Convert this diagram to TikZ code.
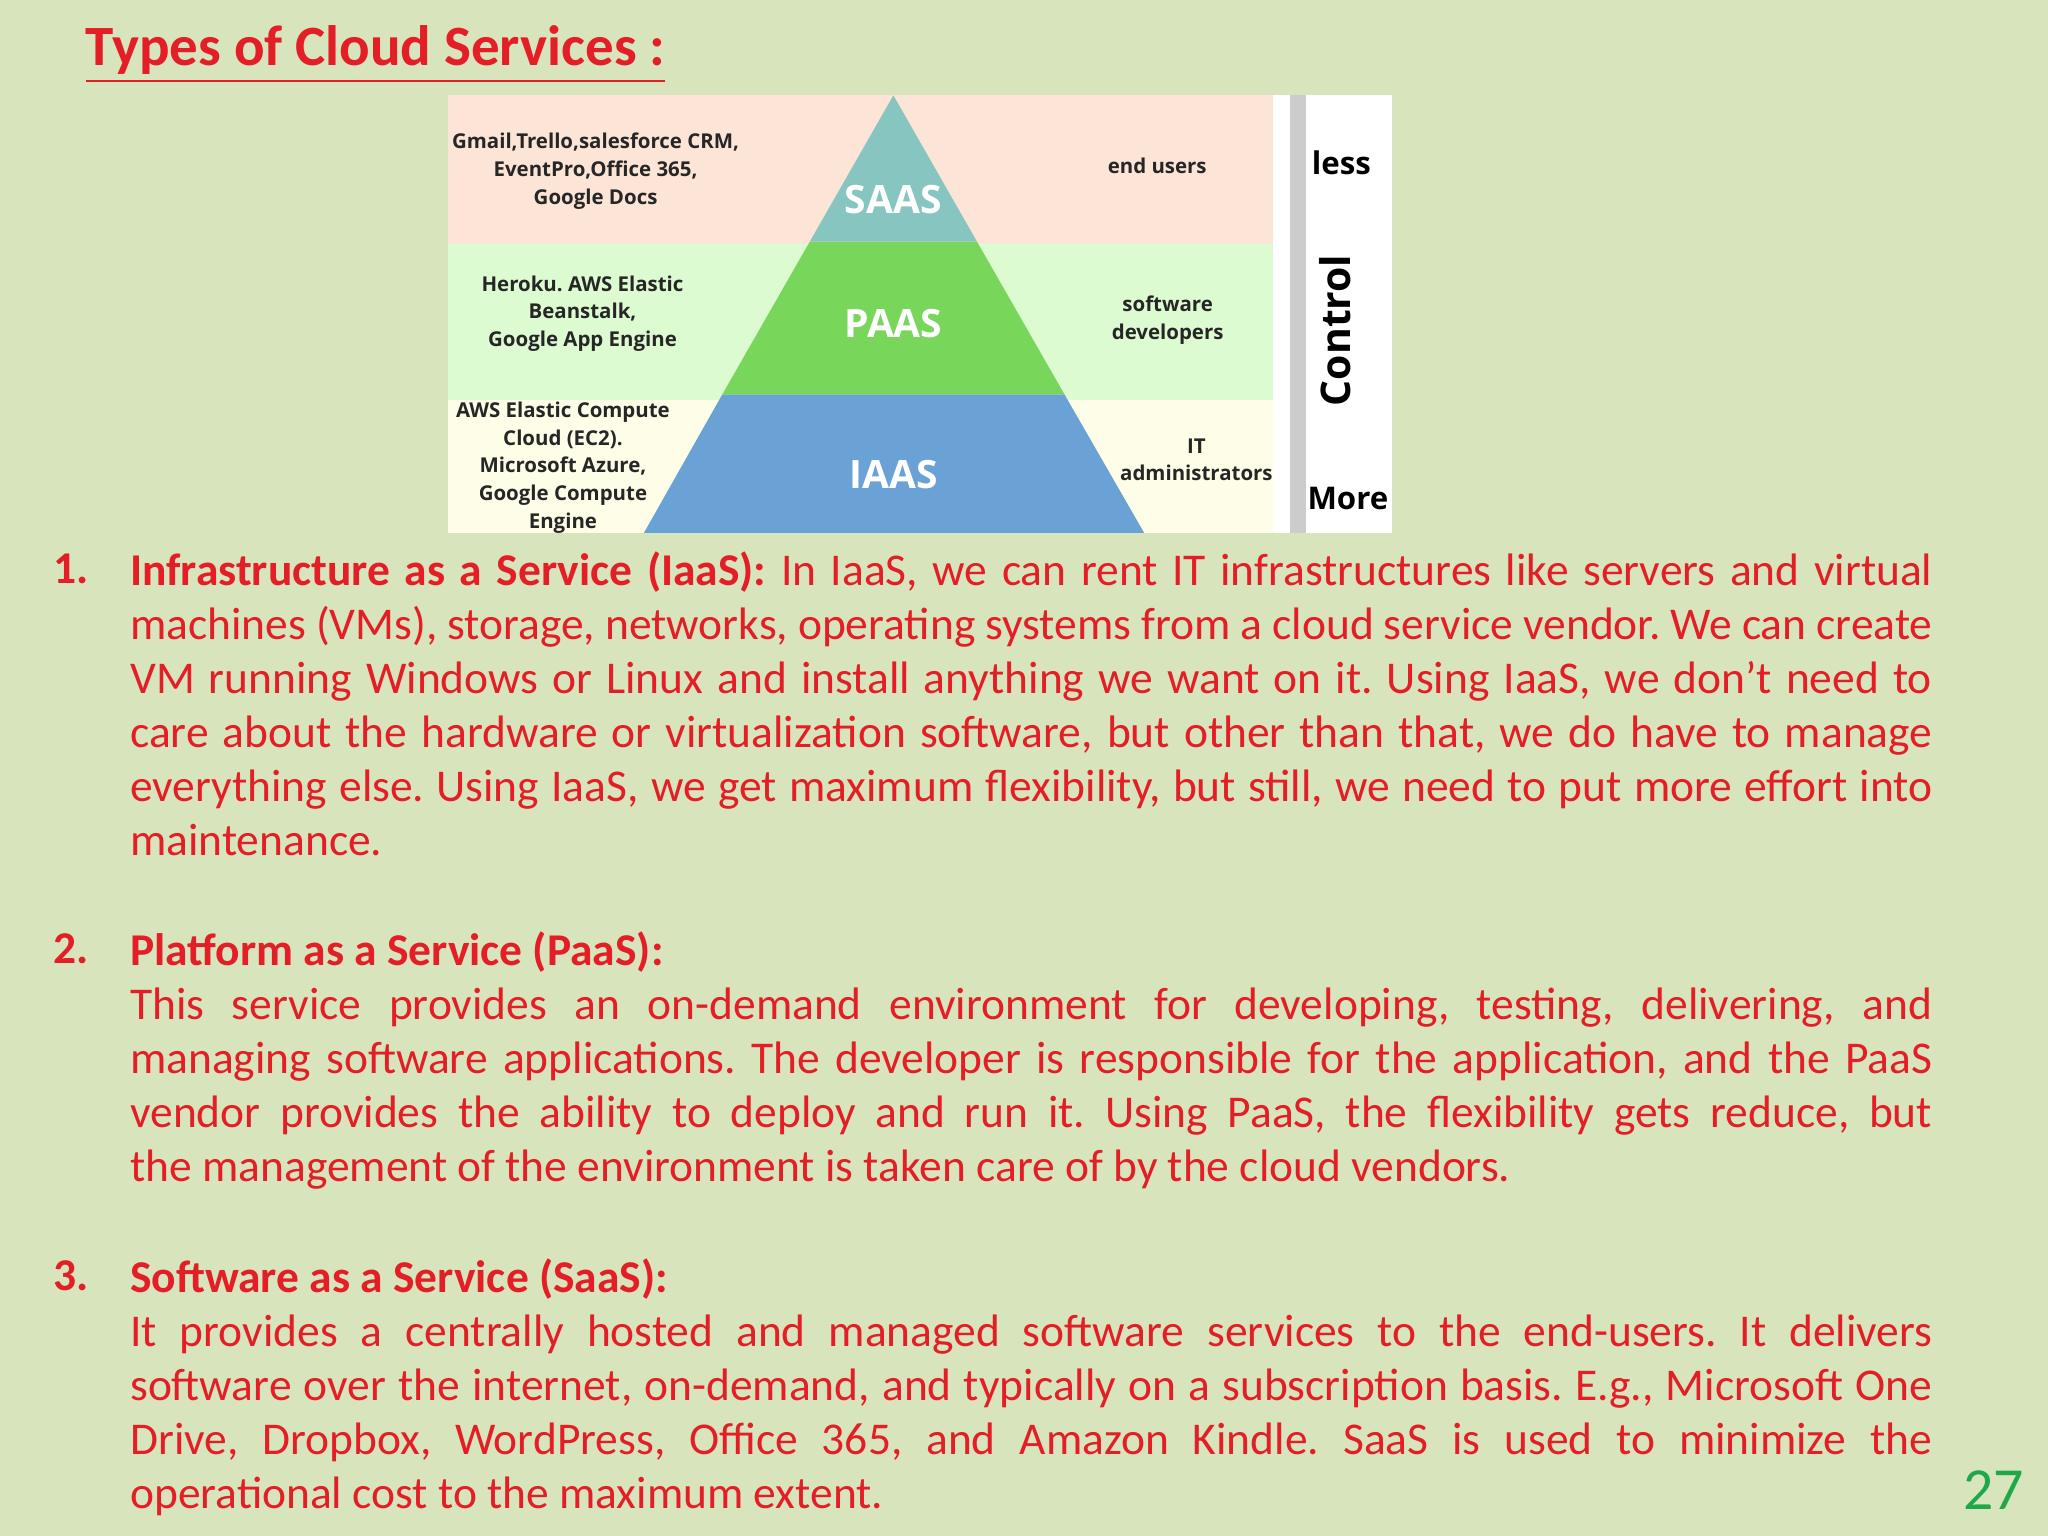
\documentclass[tikz,border=0pt]{standalone}
\usepackage{fontspec}
\setmainfont{Carlito}
\newfontfamily\picfont{Open Sans}
\frenchspacing
\definecolor{bg}{HTML}{D8E4BC}
\definecolor{txtred}{HTML}{E41E26}
\definecolor{pgreen}{HTML}{1FA84A}
\definecolor{bandA}{HTML}{FCE4D6}
\definecolor{bandB}{HTML}{DDFBD0}
\definecolor{bandC}{HTML}{FEFDE8}
\definecolor{saas}{HTML}{86C5C0}
\definecolor{paas}{HTML}{78D65B}
\definecolor{iaas}{HTML}{6AA2D5}
\tikzset{
  lbl/.style={font=\picfont\bfseries\fontsize{4.45}{6}\selectfont, align=center, text=black!85, inner sep=0},
  tier/.style={font=\picfont\bfseries\fontsize{8.5}{10}\selectfont, text=white, inner sep=0},
  para/.style={anchor=north west, inner sep=0, text width=13.79cm, align=justify, text=txtred, font=\fontsize{9.9}{11.76}\selectfont},
  num/.style={anchor=base west, inner sep=0, text=txtred, font=\bfseries\fontsize{9.9}{11.76}\selectfont}
}
\begin{document}
\begin{tikzpicture}[x=0.01cm,y=-0.01cm]
\fill[bg] (0,0) rectangle (1568,1176);
\useasboundingbox (0,0) rectangle (1568,1176);
\node[anchor=base west, inner sep=0, text=txtred, font=\bfseries\fontsize{12.4}{15}\selectfont] (title) at (65,50) {\underline{Types of Cloud Services :}};
% image
\fill[white] (343,73) rectangle (1066,408);
\fill[bandA] (343,73) rectangle (975,187);
\fill[bandB] (343,187) rectangle (975,306);
\fill[bandC] (343,306) rectangle (975,408);
\fill[black!20] (988,73) rectangle (1000,408);
\fill[iaas] (553,302) -- (815,302) -- (876,408) -- (493,408) -- cycle;
\fill[paas] (620,185) -- (748,185) -- (815,302) -- (553,302) -- cycle;
\fill[saas] (684,73) -- (748,185) -- (620,185) -- cycle;
\node[tier] (s) at (684,153) {SAAS};
\node[tier] (p) at (684,248) {PAAS};
\node[tier] (i) at (684,363) {IAAS};
\node[lbl] (l1) at (456,131) {Gmail,Trello,salesforce CRM,\\EventPro,Office 365,\\Google Docs};
\node[lbl] (l2) at (446,240) {Heroku. AWS Elastic\\Beanstalk,\\Google App Engine};
\node[lbl] (l3) at (431,358) {AWS Elastic Compute\\Cloud (EC2).\\Microsoft Azure,\\Google Compute\\Engine};
\node[lbl] (r1) at (886,127) {end users};
\node[lbl] (r2) at (894,245) {software\\developers};
\node[lbl] (r3) at (916,352) {IT\\administrators};
\node[font=\picfont\bfseries\fontsize{6.8}{8}\selectfont, inner sep=0] (less) at (1027,125) {less};
\node[font=\picfont\bfseries\fontsize{8.9}{10}\selectfont, inner sep=0, rotate=90] (ctl) at (1022,253) {Control};
\node[font=\picfont\bfseries\fontsize{6.8}{8}\selectfont, inner sep=0] (more) at (1032,382) {More};
% list
\node[num] (n1) at (40,447) {1.};
\node[para] (t1) at (99,422) {\textbf{Infrastructure as a Service (IaaS):} In IaaS, we can rent IT infrastructures like servers and virtual\linebreak machines (VMs), storage, networks, operating systems from a cloud service vendor. We can create\linebreak VM running Windows or Linux and install anything we want on it. Using IaaS, we don’t need to\linebreak care about the hardware or virtualization software, but other than that, we do have to manage\linebreak everything else. Using IaaS, we get maximum flexibility, but still, we need to put more effort into\linebreak maintenance.};
\node[num] (n2) at (40,738) {2.};
\node[para] (t2) at (99,713) {\textbf{Platform as a Service (PaaS):}\\ This service provides an on-demand environment for developing, testing, delivering, and\linebreak managing software applications. The developer is responsible for the application, and the PaaS\linebreak vendor provides the ability to deploy and run it. Using PaaS, the flexibility gets reduce, but\linebreak the management of the environment is taken care of by the cloud vendors.};
\node[num] (n3) at (40,988) {3.};
\node[para] (t3) at (99,963) {\textbf{Software as a Service (SaaS):}\\ It provides a centrally hosted and managed software services to the end-users. It delivers\linebreak software over the internet, on-demand, and typically on a subscription basis. E.g., Microsoft One\linebreak Drive, Dropbox, WordPress, Office 365, and Amazon Kindle. SaaS is used to minimize the\linebreak operational cost to the maximum extent.};
\node[anchor=base east, inner sep=0, text=pgreen, font=\fontsize{13}{15}\selectfont] (pg) at (1550,1156) {27};
\end{tikzpicture}
\end{document}
